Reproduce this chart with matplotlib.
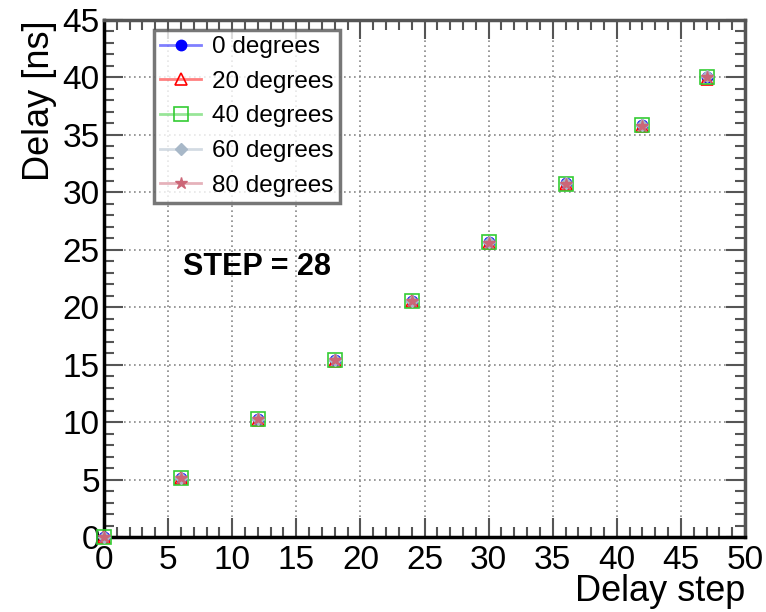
import numpy as np
import matplotlib.pyplot as plt
from matplotlib.ticker import MultipleLocator
from matplotlib.colors import to_rgba

plt.rcParams['font.family'] = ['Liberation Sans', 'DejaVu Sans']

steps = [0, 6, 12, 18, 24, 30, 36, 42, 47]
delay_0 = [0.0, 5.1, 10.3, 15.4, 20.5, 25.7, 30.8, 35.9, 40.0]
delay_20 = [0.0, 5.1, 10.2, 15.3, 20.5, 25.6, 30.7, 35.8, 39.9]
delay_40 = [0.0, 5.1, 10.3, 15.4, 20.5, 25.7, 30.7, 35.9, 40.0]
delay_60 = [0.0, 5.1, 10.3, 15.4, 20.5, 25.7, 30.8, 35.9, 40.1]
delay_80 = [0.0, 5.1, 10.3, 15.4, 20.5, 25.6, 30.7, 35.8, 40.0]

series = [
    ('0 degrees', delay_0, dict(marker='o', color='#0000ff', mfc='#0000ff', ms=7.5)),
    ('20 degrees', delay_20, dict(marker='^', color='#ff0000', mfc='none', ms=9, mew=1.2)),
    ('40 degrees', delay_40, dict(marker='s', color='#33cc33', mfc='none', ms=10, mew=1.2)),
    ('60 degrees', delay_60, dict(marker='D', color='#a8b8c8', mfc='#a8b8c8', ms=6)),
    ('80 degrees', delay_80, dict(marker='*', color='#cc6677', mfc='#cc6677', ms=9)),
]

fig = plt.figure(figsize=(7.66, 6.12), dpi=100)
ax = fig.add_axes([104 / 766, 75 / 612, 641 / 766, 517 / 612])

for name, ys, st in series:
    ax.plot(steps, ys, linestyle='none', label=name, clip_on=False, zorder=5, **st)

ax.set_xlim(0, 50)
ax.set_ylim(0, 45)
ax.xaxis.set_major_locator(MultipleLocator(5))
ax.xaxis.set_minor_locator(MultipleLocator(1))
ax.yaxis.set_major_locator(MultipleLocator(5))
ax.yaxis.set_minor_locator(MultipleLocator(1))
ax.tick_params(which='both', direction='in', top=True, right=True, width=1.5,
               labelsize=24, color='#555555')
ax.tick_params(which='major', length=14)
ax.tick_params(which='minor', length=7)
ax.tick_params(axis='x', pad=6)
ax.tick_params(axis='y', pad=3)
ax.grid(True, which='major', linestyle=(0, (1, 2)), color='#888888', linewidth=1.2)

for side in ['left', 'bottom']:
    ax.spines[side].set_linewidth(2.5)
    ax.spines[side].set_color('black')
for side in ['top', 'right']:
    ax.spines[side].set_linewidth(2.5)
    ax.spines[side].set_color('#555555')

ax.set_xlabel('Delay step', fontsize=26, loc='right', labelpad=-2)
ax.set_ylabel('Delay [ns]', fontsize=26, loc='top', labelpad=4)

# legend entries carry faded connector lines
handles = []
for name, ys, st in series:
    h, = ax.plot([], [], linestyle='-', linewidth=2, **st)
    c = h.get_color()
    h.set_color(to_rgba(c, 0.5))
    h.set_markeredgecolor(to_rgba(c, 1.0))
    h.set_label(name)
    handles.append(h)
leg = ax.legend(handles=handles, loc='upper left', bbox_to_anchor=(50 / 641, 1 - 10 / 517),
                fontsize=17.5, frameon=True, fancybox=False, edgecolor='#555555',
                handlelength=1.7, borderpad=0.25, labelspacing=0.52, handletextpad=0.45,
                borderaxespad=0.0)
leg.get_frame().set_linewidth(2.5)

ax.text(6.2, 22.8, 'STEP = 28', fontsize=22, fontweight='bold')

fig.savefig('out.png', dpi=100)
